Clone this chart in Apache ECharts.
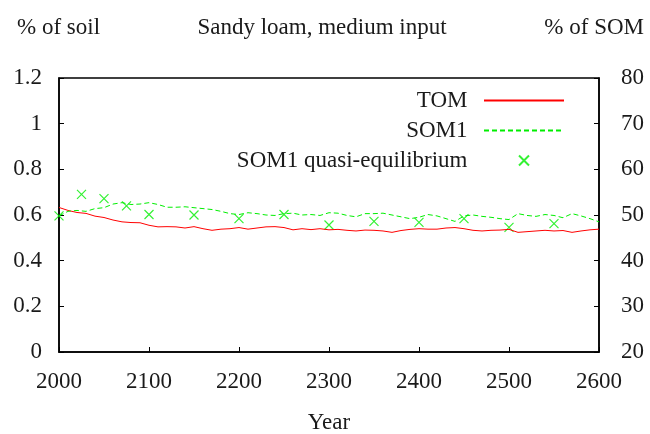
<!DOCTYPE html>
<html>
<head>
<meta charset="utf-8">
<script src="https://cdn.jsdelivr.net/npm/echarts@6/dist/echarts.min.js"></script>
<style>
  html, body { margin: 0; padding: 0; background: #fff; }
  #container { width: 650px; height: 434px; }
</style>
</head>
<body>
<div id="container"></div>
<script>
// years every 10 yr, 2000..2600
let years = [];
for (let y = 2000; y <= 2600; y += 10) years.push(y);

// TOM, % of soil (left axis)
let tomValues = [
  0.633, 0.620, 0.611, 0.607, 0.595, 0.589, 0.578, 0.570, 0.567, 0.566,
  0.555, 0.548, 0.549, 0.548, 0.543, 0.549, 0.540, 0.533, 0.538, 0.540,
  0.545, 0.538, 0.543, 0.548, 0.549, 0.545, 0.535, 0.540, 0.536, 0.540,
  0.535, 0.537, 0.533, 0.530, 0.534, 0.533, 0.530, 0.524, 0.532, 0.537,
  0.540, 0.538, 0.538, 0.543, 0.545, 0.540, 0.533, 0.530, 0.533, 0.534,
  0.537, 0.524, 0.527, 0.530, 0.533, 0.530, 0.532, 0.524, 0.530, 0.535,
  0.538
];

// SOM1, % of SOM (right axis)
let som1Values = [
  49.8, 50.8, 51.0, 50.8, 51.4, 51.6, 52.4, 52.7, 52.3, 52.4,
  52.7, 52.3, 51.7, 51.7, 51.8, 51.6, 51.4, 51.2, 50.8, 50.3,
  50.1, 50.5, 50.3, 50.0, 49.9, 50.3, 50.4, 50.0, 50.1, 49.9,
  50.5, 50.4, 49.9, 49.6, 50.3, 50.3, 50.4, 50.0, 49.6, 49.2,
  49.5, 50.1, 49.8, 49.2, 48.6, 49.8, 50.0, 49.7, 49.5, 49.2,
  49.0, 50.3, 49.9, 49.7, 50.1, 49.9, 49.4, 50.3, 49.8, 49.2,
  48.5
];

// SOM1 quasi-equilibrium points (right axis)
let eqYears = [2000, 2025, 2050, 2075, 2100, 2150, 2200, 2250, 2300, 2350, 2400, 2450, 2500, 2550];
let eqValues = [49.8, 54.5, 53.6, 52.0, 50.1, 50.0, 49.2, 50.1, 47.8, 48.6, 48.4, 49.2, 47.3, 48.1];

let leftTicks = [0, 0.2, 0.4, 0.6, 0.8, 1, 1.2];
let rightTicks = [20, 30, 40, 50, 60, 70, 80];

const FONT = 'Liberation Serif';
const FS = 23;
const TXT = '#1a1a1a';
const RED = '#ff0000';
const GREEN = '#00ee00';

function pairs(xs, ys) {
  return xs.map(function (x, i) { return [x, ys[i]]; });
}

let dom = document.getElementById("container");
let myChart = echarts.init(dom, null, { renderer: 'canvas' });

let option = {
  animation: false,
  textStyle: { fontFamily: FONT },
  grid: {
    left: 59, right: 51, top: 78, bottom: 82,
    show: true, borderColor: '#000', borderWidth: 1.5,
    backgroundColor: 'transparent'
  },
  graphic: [
    { type: 'text', left: 17, top: 16, style: { text: '% of soil', font: FS + 'px ' + FONT, fill: TXT } },
    { type: 'text', x: 322, y: 28, style: { text: 'Sandy loam, medium input', font: FS + 'px ' + FONT, fill: TXT, textAlign: 'center', textVerticalAlign: 'middle' } },
    { type: 'text', x: 644, y: 28, style: { text: '% of SOM', font: FS + 'px ' + FONT, fill: TXT, textAlign: 'right', textVerticalAlign: 'middle' } },
    { type: 'text', x: 329, y: 423, style: { text: 'Year', font: FS + 'px ' + FONT, fill: TXT, textAlign: 'center', textVerticalAlign: 'middle' } }
  ],
  legend: {
    orient: 'vertical',
    align: 'right',
    right: 80,
    top: 84,
    itemWidth: 80,
    itemHeight: 10,
    itemGap: 7,
    formatter: function (name) { return name + '  '; },
    textStyle: { fontFamily: FONT, fontSize: FS, color: TXT },
    data: [
      { name: 'TOM', itemStyle: { opacity: 0 } },
      { name: 'SOM1', itemStyle: { opacity: 0 } },
      { name: 'SOM1 quasi-equilibrium' }
    ]
  },
  xAxis: {
    type: 'value',
    min: 2000, max: 2600, interval: 100,
    axisLine: { lineStyle: { color: '#000', width: 1.5 } },
    axisTick: { inside: true, length: 5, lineStyle: { color: '#000' } },
    axisLabel: { fontFamily: FONT, fontSize: FS, color: TXT, margin: 18,
      formatter: function (v) { return String(v); } },
    splitLine: { show: false }
  },
  yAxis: [{
    type: 'value',
    min: leftTicks[0], max: leftTicks[leftTicks.length - 1], interval: 0.2,
    axisLine: { show: true, lineStyle: { color: '#000', width: 1.5 } },
    axisTick: { show: true, inside: true, length: 5, lineStyle: { color: '#000' } },
    axisLabel: { fontFamily: FONT, fontSize: FS, color: TXT, margin: 17,
      formatter: function (v) { return String(Math.round(v * 10) / 10); } },
    splitLine: { show: false }
  }, {
    type: 'value',
    position: 'right',
    min: rightTicks[0], max: rightTicks[rightTicks.length - 1], interval: 10,
    axisLine: { show: true, lineStyle: { color: '#000', width: 1.5 } },
    axisTick: { show: true, inside: true, length: 5, lineStyle: { color: '#000' } },
    axisLabel: { fontFamily: FONT, fontSize: FS, color: TXT, margin: 22 },
    splitLine: { show: false }
  }],
  series: [{
    name: 'TOM',
    type: 'line',
    yAxisIndex: 0,
    symbol: 'none',
    data: pairs(years, tomValues),
    lineStyle: { color: RED, width: 1 },
    itemStyle: { color: RED }
  }, {
    name: 'SOM1',
    type: 'line',
    yAxisIndex: 1,
    symbol: 'none',
    data: pairs(years, som1Values),
    lineStyle: { color: GREEN, width: 1, type: [5, 3] },
    itemStyle: { color: GREEN }
  }, {
    name: 'SOM1 quasi-equilibrium',
    type: 'scatter',
    yAxisIndex: 1,
    symbol: 'path://M0,0L10,10M10,0L0,10',
    symbolSize: 9,
    data: pairs(eqYears, eqValues),
    itemStyle: { color: 'none', borderColor: GREEN, borderWidth: 1.2 }
  }]
};

myChart.setOption(option);
</script>
</body>
</html>
